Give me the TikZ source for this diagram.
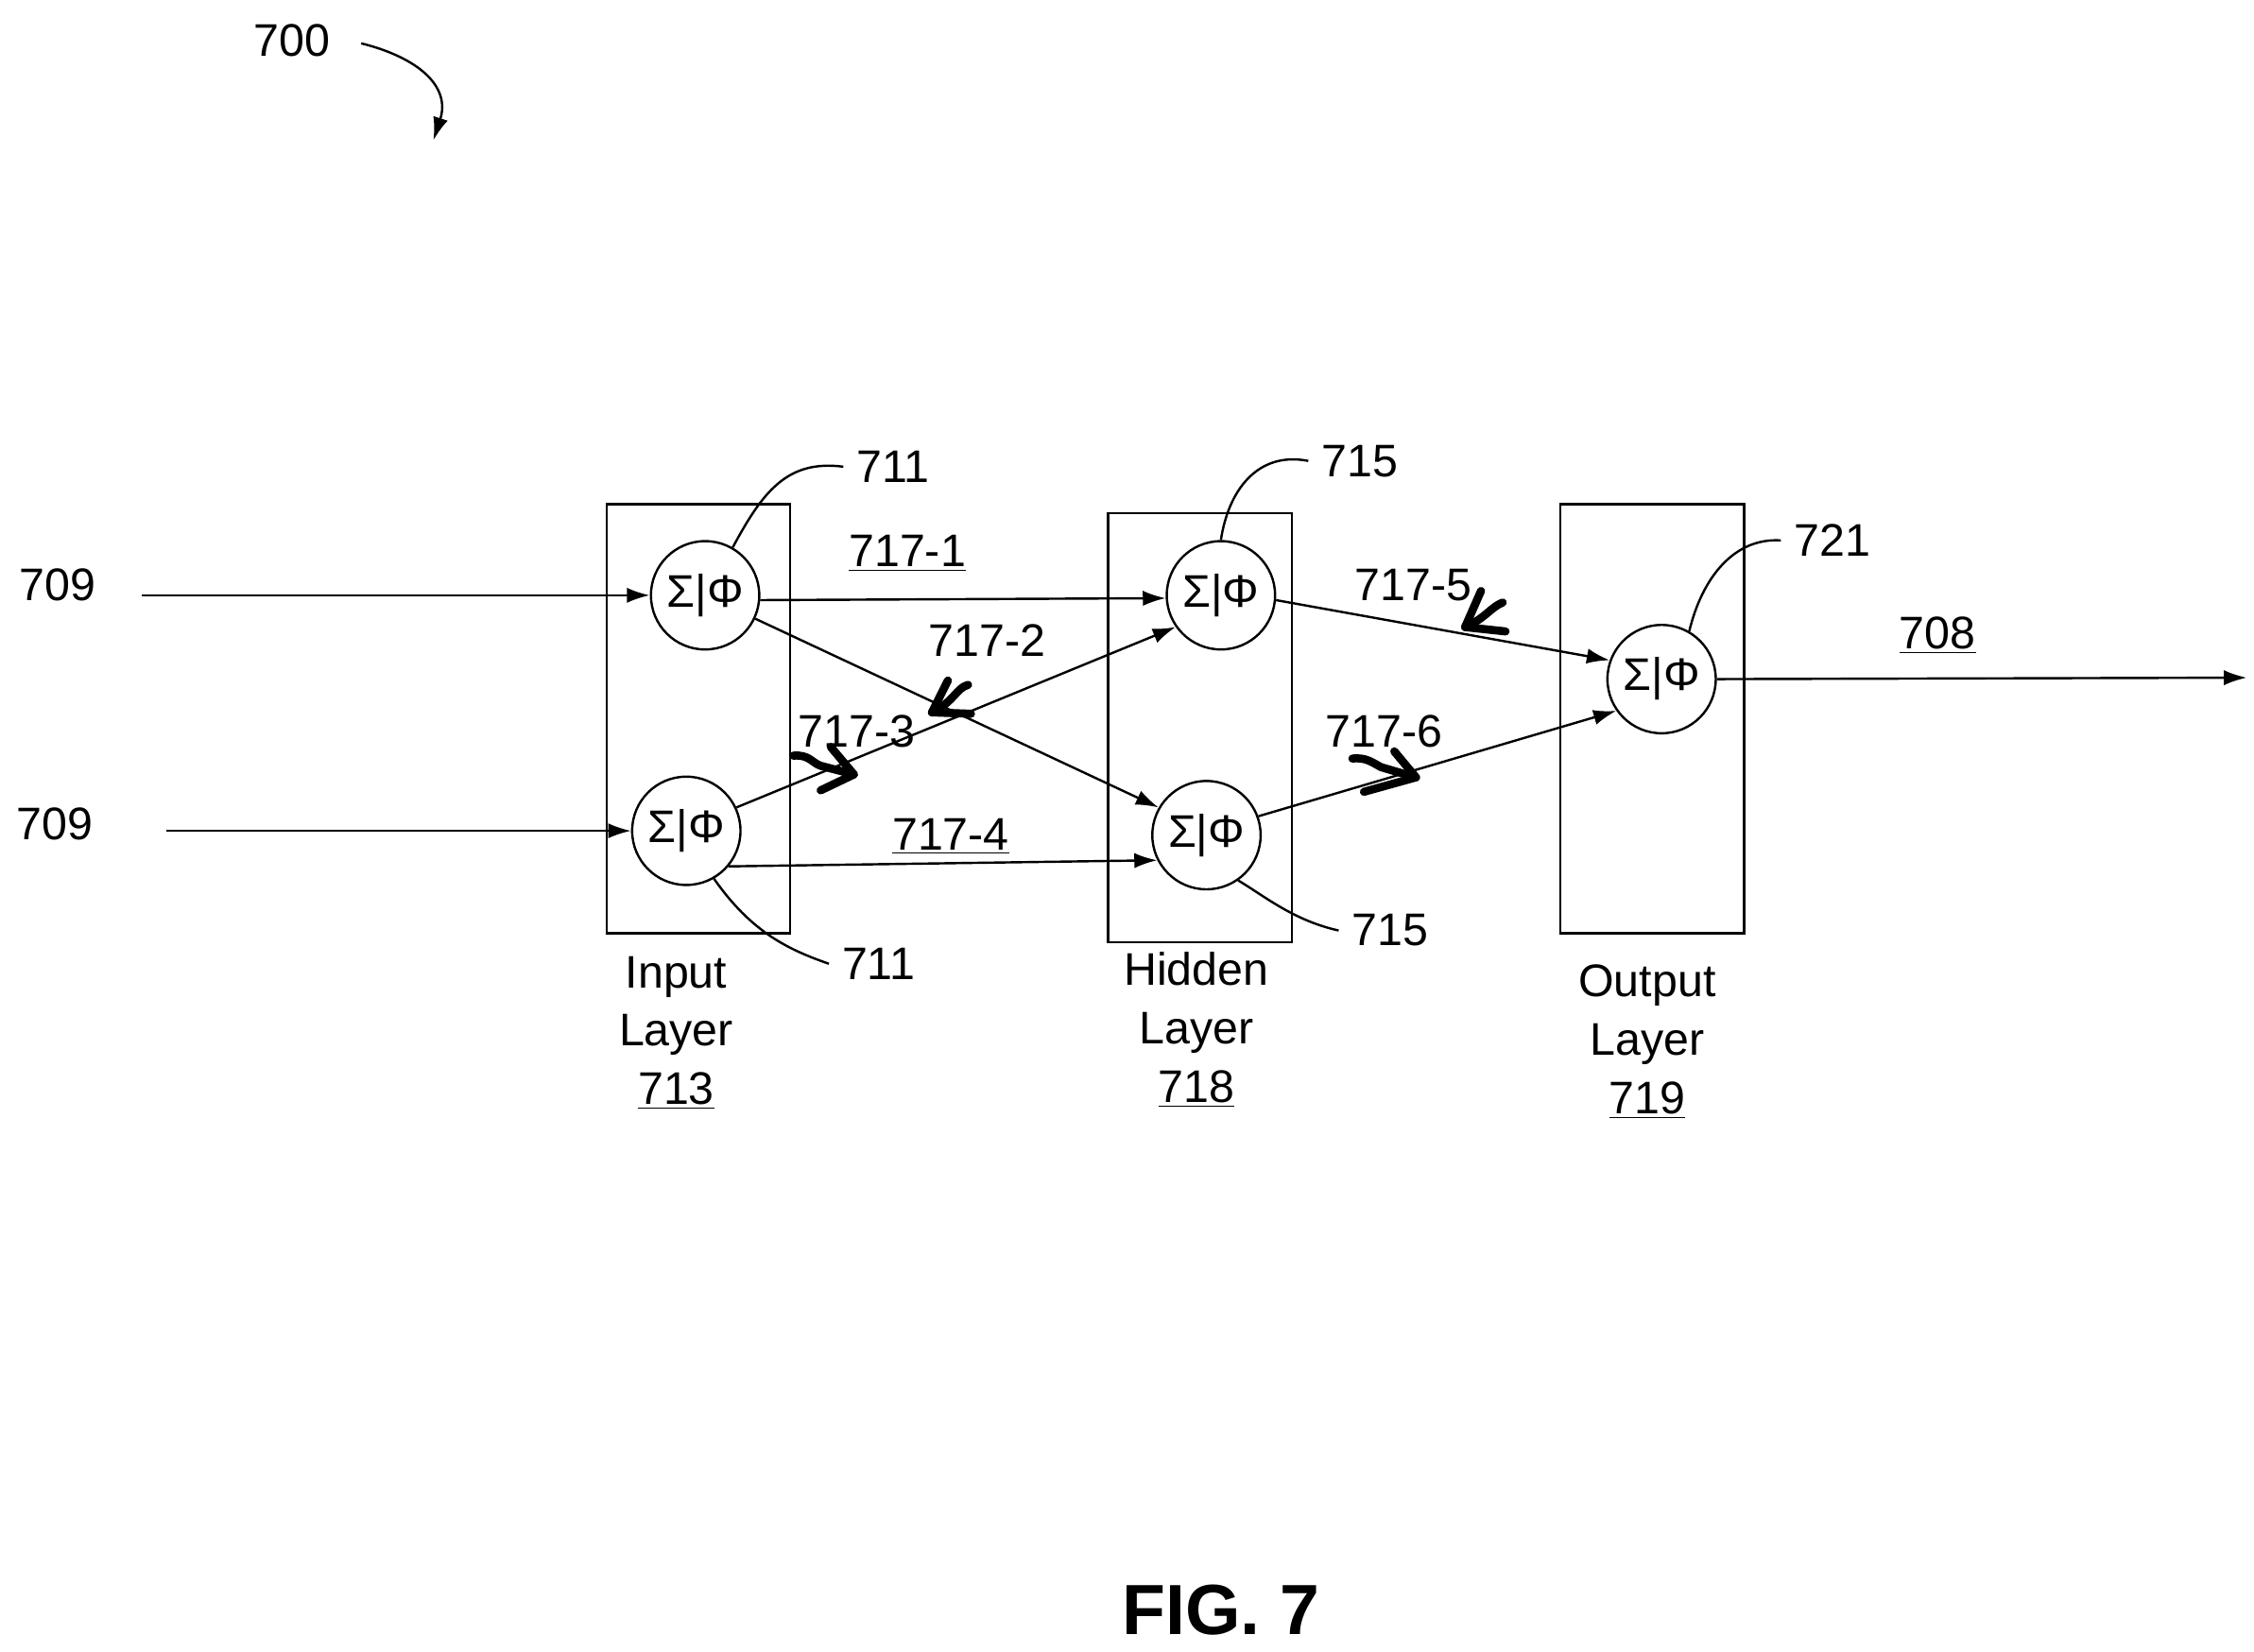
\documentclass[tikz,border=0pt]{standalone}
\usepackage{fontspec}
\setmainfont{Liberation Sans}
\usetikzlibrary{arrows.meta}
\begin{document}
\begin{tikzpicture}[x=0.02cm,y=-0.02cm,
  lbl/.style={font=\fontsize{18}{21}\selectfont,inner sep=0pt},
  neu/.style={circle,draw,line width=0.9pt,minimum size=1.5cm,inner sep=0pt,font=\fontsize{18}{21}\selectfont},
  box/.style={draw,line width=0.9pt},
  conn/.style={line width=0.9pt,-{Latex[length=9pt,width=6pt]}},
  lead/.style={line width=0.9pt},
  hmark/.style={line width=3.2pt,line cap=round,line join=round},
  stack/.style={font=\fontsize{18}{20}\selectfont,align=center,inner sep=0pt}]
\useasboundingbox (0,0) rectangle (1560,1143);
% boxes
\draw[box] (420,349) rectangle (547,646);
\draw[box] (767,355) rectangle (894,652);
\draw[box] (1080,349) rectangle (1207,646);
% neurons
\node[neu] (i1) at (488,412) {Σ|Φ};
\node[neu] (i2) at (475,575) {Σ|Φ};
\node[neu] (h1) at (845,412) {Σ|Φ};
\node[neu] (h2) at (835,578) {Σ|Φ};
\node[neu] (o) at (1150,470) {Σ|Φ};
% inputs
\node[lbl] (l709a) at (40,405) {709};
\node[lbl] (l709b) at (38,570) {709};
\coordinate (s1) at (98,412);
\coordinate (s2) at (115,575);
\draw[conn] (s1) -- (i1.west);
\draw[conn] (s2) -- (i2.west);
% output
\coordinate (e) at (1555,469);
\draw[conn] (o.east) -- (e);
\node[lbl] (l708) at (1341,440) {\underline{708}};
% connections
\draw[conn] (i1.355) -- (h1.183);
\draw[conn] (i1.335) -- (h2.150);
\draw[conn] (i2.25) -- (h1.215);
\draw[conn] (i2.320) -- (h2.207);
\draw[conn] (h1.355) -- (o.160);
\draw[conn] (h2.20) -- (o.215);
\node[lbl] (c1) at (628,383) {\underline{717-1}};
\node[lbl] (c2) at (683,443) {717-2};
\node[lbl] (c3) at (593,506) {717-3};
\node[lbl] (c4) at (658,579) {\underline{717-4}};
\node[lbl] (c5) at (978,405) {717-5};
\node[lbl] (c6) at (958,506) {717-6};
% hand-drawn marks
\draw[hmark] (549,523) .. controls (560,522) and (562,528) .. (568,530) -- (591,536);
\draw[hmark] (575,517) -- (591,536) -- (568,547);
\draw[hmark] (670,474) .. controls (662,476) and (660,486) .. (645,493);
\draw[hmark] (656,471) -- (645,493) -- (672,494);
\draw[hmark] (1040,417) .. controls (1032,420) and (1028,428) .. (1014,434);
\draw[hmark] (1025,409) -- (1014,434) -- (1042,437);
\draw[hmark] (936,525) .. controls (946,524) and (950,528) .. (956,531) -- (980,538);
\draw[hmark] (965,520) -- (980,538) -- (944,548);
% leader labels
\node[lbl,inner xsep=5pt] (n711a) at (618,323) {711};
\node[lbl,inner xsep=5pt] (n711b) at (608,667) {711};
\node[lbl,inner xsep=5pt] (n715a) at (941,319) {715};
\node[lbl,inner xsep=5pt] (n715b) at (962,644) {715};
\node[lbl,inner xsep=5pt] (n721) at (1268,374) {721};
\draw[lead] (i1.60) .. controls (528,340) and (545,318) .. (n711a.west);
\draw[lead] (i2.300) .. controls (520,645) and (545,657) .. (n711b.west);
\draw[lead] (h1.90) .. controls (850,340) and (870,312) .. (n715a.west);
\draw[lead] (h2.305) .. controls (875,620) and (895,637) .. (n715b.west);
\draw[lead] (o.60) .. controls (1178,400) and (1200,372) .. (n721.west);
% layer labels
\node[stack] (L1) at (468,715) {Input\\[3pt]Layer\\[3pt]\underline{713}};
\node[stack] (L2) at (828,713) {Hidden\\[3pt]Layer\\[3pt]\underline{718}};
\node[stack] (L3) at (1140,721) {Output\\[3pt]Layer\\[3pt]\underline{719}};
% 700
\node[lbl] (n700) at (202,28) {700};
\coordinate (a700) at (300,97);
\draw[lead,-{Latex[length=9pt,width=6pt]}] (250,30) .. controls (290,40) and (312,60) .. (a700);
% title
\node[font=\fontsize{28}{32}\selectfont\bfseries] (fig) at (845,1114) {FIG. 7};
\end{tikzpicture}
\end{document}
